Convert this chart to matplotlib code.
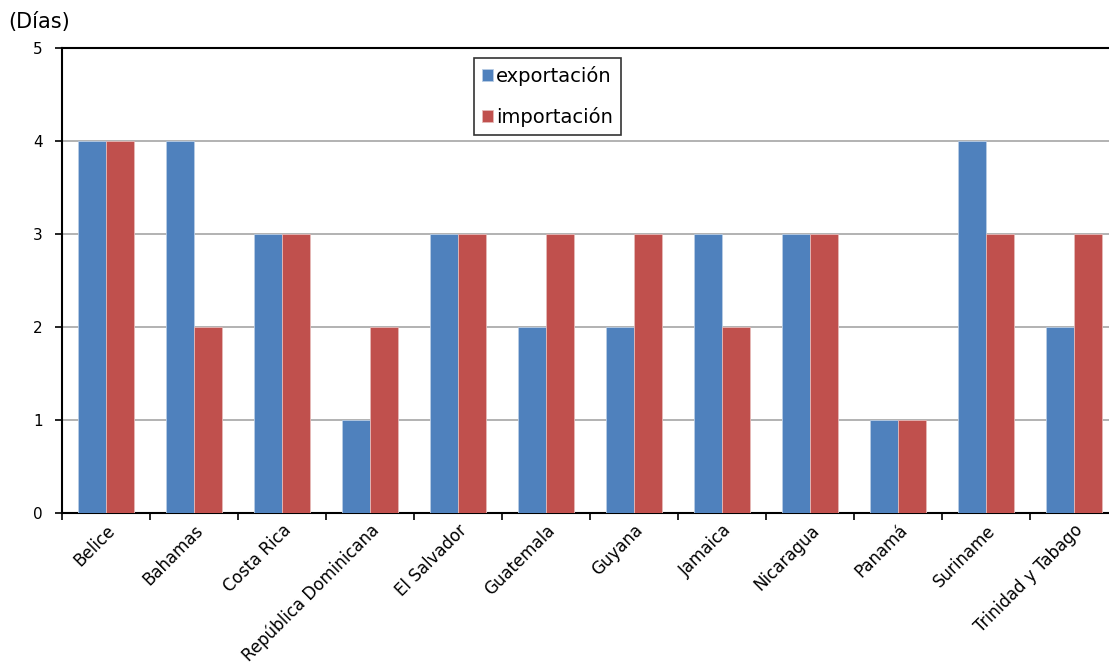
import numpy as np
import matplotlib.pyplot as plt

# Data
paises = ['Belice', 'Bahamas', 'Costa Rica', 'República Dominicana', 'El Salvador',
          'Guatemala', 'Guyana', 'Jamaica', 'Nicaragua', 'Panamá', 'Suriname',
          'Trinidad y Tabago']
exportacion = [4, 4, 3, 1, 3, 2, 2, 3, 3, 1, 4, 2]
importacion = [4, 2, 3, 2, 3, 3, 3, 2, 3, 1, 3, 3]

azul = '#4F81BD'
rojo = '#C0504D'

plt.rcParams['font.family'] = ['Verdana', 'DejaVu Sans']

fig = plt.figure(figsize=(11.09, 6.68), dpi=100)
W, H = 1109, 668
ax = fig.add_axes([62 / W, 1 - 513 / H, 1056 / W, 465 / H])

x = np.arange(len(paises))
bw = 28 / 88
ax.bar(x - bw / 2, exportacion, bw, color=azul, edgecolor='#b9cde5', linewidth=0.6,
       label='exportación', zorder=3)
ax.bar(x + bw / 2, importacion, bw, color=rojo, edgecolor='#e6b9b8', linewidth=0.6,
       label='importación', zorder=3)

ax.set_xlim(-0.5, len(paises) - 0.5)
ax.set_ylim(0, 5)
ax.set_yticks([0, 1, 2, 3, 4, 5])
ax.yaxis.grid(True, color='#a6a6a6', linewidth=1.2, zorder=0)
ax.set_axisbelow(True)

ax.set_xticks(x)
ax.set_xticklabels(paises, rotation=45, ha='right', rotation_mode='anchor', fontsize=12)
ax.set_xticks(np.arange(len(paises) + 1) - 0.5, minor=True)
ax.tick_params(axis='x', which='major', length=0, pad=6)
ax.tick_params(axis='x', which='minor', length=5, width=1.2, direction='out')
ax.tick_params(axis='y', length=5, width=1.2, direction='out', labelsize=11, pad=9)

for s in ['left', 'bottom', 'top']:
    ax.spines[s].set_linewidth(1.5)
    ax.spines[s].set_color('black')
ax.spines['right'].set_visible(False)

fig.text(8 / W, 1 - 22 / H, '(Días)', fontsize=15, va='center', ha='left')

leg = ax.legend(loc='upper left', bbox_to_anchor=((474 - 62) / 1056, (513 - 58) / 465),
                fontsize=14, frameon=True, fancybox=False, handlelength=0.6,
                handleheight=0.6, handletextpad=0.15, labelspacing=1.1,
                borderpad=0.4, borderaxespad=0)
leg.get_frame().set_edgecolor('black')
leg.get_frame().set_linewidth(1.2)

fig.savefig('out.png', dpi=100)
